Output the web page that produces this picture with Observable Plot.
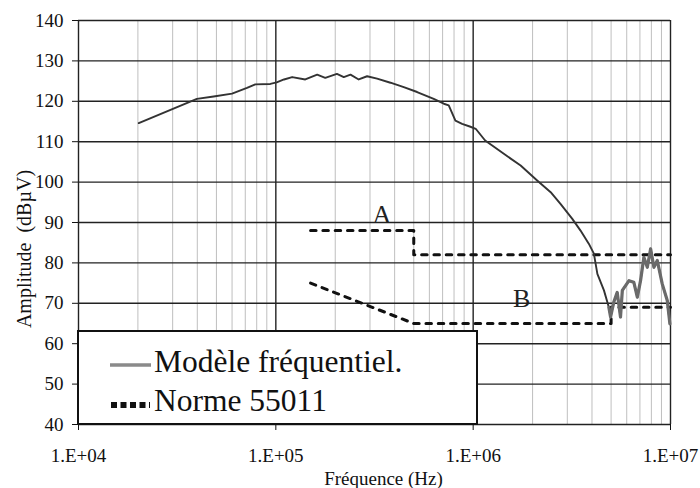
<!DOCTYPE html>
<html><head><meta charset="utf-8">
<script src="https://cdn.jsdelivr.net/npm/d3@7"></script>
<script src="https://cdn.jsdelivr.net/npm/@observablehq/plot@0.6"></script>
<style>html,body{margin:0;padding:0;background:#fff;} svg{display:block}</style>
</head><body><div id="chart"></div>
<script>
// Modèle fréquentiel (Hz, dBµV)
const modelFreq = [2.02e4, 3.98e4, 4.84e4, 6.0e4, 7.14e4, 7.87e4, 9.38e4, 1.01e5, 1.10e5, 1.21e5, 1.41e5, 1.62e5, 1.78e5, 2.04e5, 2.21e5, 2.39e5, 2.63e5, 2.90e5, 3.26e5, 3.81e5, 4.45e5, 5.2e5, 6.31e5, 7.1e5, 7.52e5, 8.13e5, 8.79e5, 9.69e5, 1.03e6, 1.15e6, 1.43e6, 1.74e6, 2.11e6, 2.47e6, 2.77e6, 3.18e6, 3.50e6, 3.86e6, 4.09e6, 4.26e6, 4.6e6, 4.87e6, 4.97e6, 5.16e6, 5.37e6, 5.58e6, 5.7e6, 6.16e6, 6.52e6, 6.79e6, 7.05e6, 7.33e6, 7.63e6, 7.93e6, 8.24e6, 8.57e6, 9.08e6, 9.63e6, 9.93e6];
const modelAmp = [114.6, 120.6, 121.2, 121.9, 123.3, 124.2, 124.3, 124.7, 125.4, 126, 125.4, 126.6, 125.8, 126.8, 126, 126.6, 125.4, 126.2, 125.6, 124.6, 123.5, 122.3, 120.6, 119.4, 119, 115.2, 114.4, 113.7, 113.2, 110.3, 107, 104.1, 100.4, 97.5, 94.6, 90.9, 88, 84.7, 82.3, 77.3, 73.2, 69, 66.6, 70.3, 72.7, 66.6, 73.2, 75.6, 75.2, 71.5, 75.6, 81.4, 78.9, 83.5, 78.9, 80.6, 74.8, 70.7, 64.9];
// Norme 55011, limites A et B
const normAFreq = [1.5e5, 5e5, 5e5, 1e7];
const normAAmp = [88, 88, 82, 82];
const normBFreq = [1.5e5, 5e5, 5e6, 5e6, 1e7];
const normBAmp = [75, 65, 65, 69, 69];
// annotations
const annotLabels = ["A", "B"];
const annotFreq = [3.45e5, 1.76e6];
const annotAmp = [90, 69];
// ticks
const xTicks = [1e4, 1e5, 1e6, 1e7];
const xTickLabels = ["1.E+04", "1.E+05", "1.E+06", "1.E+07"];
const yTicks = [40, 50, 60, 70, 80, 90, 100, 110, 120, 130, 140];
const legendLabels = ["Modèle fréquentiel.", "Norme 55011"];
const xTitle = "Fréquence (Hz)";
const yTitle = "Amplitude\u00a0\u00a0(dBµV)";

const model = modelFreq.map((f, i) => ({f, a: modelAmp[i]}));
const normA = normAFreq.map((f, i) => ({f, a: normAAmp[i]}));
const normB = normBFreq.map((f, i) => ({f, a: normBAmp[i]}));
const annots = annotLabels.map((t, i) => ({t, f: annotFreq[i], a: annotAmp[i]}));
const minor = xTicks.slice(0, -1).flatMap(d => [2, 3, 4, 5, 6, 7, 8, 9].map(k => k * d));

const font = "Liberation Serif";
const plot = Plot.plot({
  width: 700, height: 488,
  marginLeft: 78, marginRight: 30, marginTop: 20, marginBottom: 64,
  style: {fontSize: "19px", background: "#fff", color: "#111"},
  x: {type: "log", domain: [1e4, 1e7]},
  y: {domain: [40, 140]},
  marks: [
    Plot.ruleX(minor, {stroke: "#b8b8b8", strokeWidth: 0.9}),
    Plot.ruleX(xTicks, {stroke: "#222", strokeWidth: 1.4}),
    Plot.ruleY(yTicks, {stroke: "#222", strokeWidth: 1.4}),
    Plot.axisX({ticks: xTicks, tickFormat: d => xTickLabels[xTicks.indexOf(d)], tickSize: 6, tickPadding: 18, fontSize: 19, label: null}),
    Plot.axisY({ticks: yTicks, tickSize: 6, tickPadding: 9, fontSize: 19, label: null}),
    Plot.line(normA, {x: "f", y: "a", stroke: "#111", strokeWidth: 3, strokeDasharray: "5.5,6.8"}),
    Plot.line(normB, {x: "f", y: "a", stroke: "#111", strokeWidth: 3, strokeDasharray: "5.5,6.8"}),
    Plot.line(model, {x: "f", y: "a", stroke: "#333", strokeWidth: 1.9}),
    Plot.line(model, {filter: d => d.f >= 4.8e6, x: "f", y: "a", stroke: "#6a6a6a", strokeWidth: 3.2}),
    Plot.text(annots, {x: "f", y: "a", text: "t", fontSize: 26, lineAnchor: "bottom", fill: "#222"}),
    Plot.text([xTitle], {frameAnchor: "bottom", dx: 9, dy: 60, lineAnchor: "bottom", fontSize: 19})
  ]
});

const svg = d3.select(plot);
svg.attr("font-family", font);
// y-axis title
svg.append("text").attr("transform", "translate(31,249) rotate(-90)")
  .attr("text-anchor", "middle").attr("font-size", 20).attr("fill", "#111").text(yTitle);

// legend box drawn over the grid
const g = svg.append("g").attr("text-anchor", "start");
g.append("rect").attr("x", 78).attr("y", 331).attr("width", 399).attr("height", 93)
  .attr("fill", "#fff").attr("stroke", "#111").attr("stroke-width", 2);
g.append("line").attr("x1", 110).attr("x2", 151).attr("y1", 365).attr("y2", 365)
  .attr("stroke", "#8a8a8a").attr("stroke-width", 3.5);
g.append("text").attr("x", 154).attr("y", 372).attr("font-size", 31.5).attr("fill", "#111").text(legendLabels[0]);
g.append("line").attr("x1", 111).attr("x2", 150).attr("y1", 405).attr("y2", 405)
  .attr("stroke", "#111").attr("stroke-width", 6).attr("stroke-dasharray", "6,3.5");
g.append("text").attr("x", 154).attr("y", 411).attr("font-size", 31.5).attr("fill", "#111").text(legendLabels[1]);

svg.selectAll("g, text").attr("font-family", font);
document.getElementById("chart").appendChild(plot);
</script>
</body></html>
